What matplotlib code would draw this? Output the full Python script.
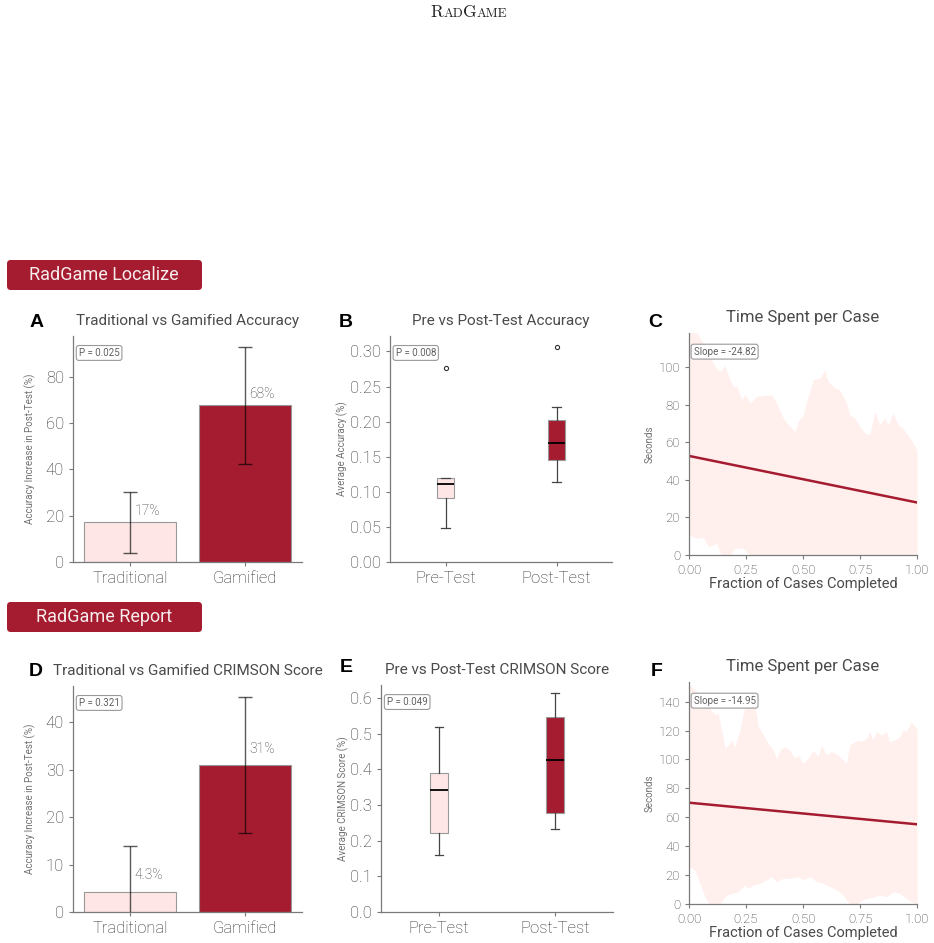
import matplotlib
matplotlib.use("Agg")
import matplotlib.pyplot as plt
from matplotlib.patches import FancyBboxPatch
import numpy as np

# ---- data ----
groups = ["Traditional", "Gamified"]
phases = ["Pre-Test", "Post-Test"]

loc_gain = [17.1, 67.6]
loc_gain_err = [13.2, 25.3]
loc_gain_p = "P = 0.025"

rep_gain = [4.3, 31.0]
rep_gain_err = [9.6, 14.4]
rep_gain_p = "P = 0.321"

# box stats: whislo, q1, med, q3, whishi
loc_pre_box = [0.048, 0.091, 0.111, 0.119, 0.120]
loc_post_box = [0.114, 0.145, 0.169, 0.203, 0.221]
loc_pre_fliers = [0.276]
loc_post_fliers = [0.307]
loc_box_p = "P = 0.008"

rep_pre_box = [0.161, 0.223, 0.342, 0.391, 0.518]
rep_post_box = [0.234, 0.277, 0.427, 0.546, 0.614]
rep_pre_fliers = []
rep_post_fliers = []
rep_box_p = "P = 0.049"

# time per case: +/- band and linear fit
loc_up_x = [0.000, 0.048, 0.092, 0.114, 0.136, 0.158, 0.172, 0.194, 0.209, 0.231,
            0.245, 0.270, 0.296, 0.326, 0.362, 0.384, 0.413, 0.442, 0.464, 0.479,
            0.501, 0.523, 0.545, 0.574, 0.596, 0.610, 0.639, 0.661, 0.691, 0.705,
            0.727, 0.749, 0.771, 0.793, 0.815, 0.836, 0.858, 0.873, 0.895, 0.917,
            0.931, 0.953, 0.975, 0.990, 1.000]
loc_up_y = [125, 116, 106, 100.5, 97.9, 100.9, 96, 89.5, 90.2, 82.7,
            85.4, 81, 84.5, 84.9, 85.4, 81, 73, 68.5, 65.8, 71.2,
            74.7, 84.5, 93.4, 94.3, 98.8, 92.5, 89, 88, 81, 74.7,
            73, 68.5, 65, 64, 76.5, 69.4, 73, 69.4, 75.6, 69.4,
            68.5, 65, 61.4, 57.8, 56]
loc_lo_x = [0.000, 0.034, 0.063, 0.085, 0.121, 0.143, 0.165, 0.201, 0.238, 0.274,
            0.350, 0.500, 0.700, 0.850, 1.000]
loc_lo_y = [10.7, 8.9, 9.4, 4.4, 6.2, -1, -3, 3.6, 3.6, -1,
            -6, -8, -9, -7, -6]
loc_fit = (52.8, -24.82)

rep_up_x = [0.000, 0.048, 0.077, 0.092, 0.114, 0.128, 0.143, 0.158, 0.172, 0.187,
            0.201, 0.223, 0.241, 0.260, 0.274, 0.289, 0.304, 0.326, 0.347, 0.369,
            0.384, 0.399, 0.420, 0.442, 0.464, 0.479, 0.501, 0.523, 0.545, 0.566,
            0.581, 0.603, 0.625, 0.654, 0.676, 0.691, 0.705, 0.727, 0.742, 0.756,
            0.778, 0.793, 0.807, 0.822, 0.844, 0.866, 0.880, 0.902, 0.924, 0.939,
            0.953, 0.975, 0.985, 1.000]
rep_up_y = [152, 145, 140, 135, 130.8, 132, 120.4, 107.7, 110, 113.5,
            108.9, 120.4, 134, 142, 148, 137.7, 122.7, 117, 111, 106.5,
            100.8, 106.5, 108.9, 106.5, 100.8, 103, 97.3, 100.8, 106.5, 102,
            110, 103, 105.4, 103, 99.6, 97.3, 110, 112.3, 113.5, 112.3,
            114.6, 119.2, 113.5, 119.2, 117, 119.2, 112.3, 113.5, 115.8, 120.4,
            119.2, 126, 123.8, 121.5]
rep_lo_x = [0.000, 0.026, 0.048, 0.070, 0.099, 0.136, 0.165, 0.194, 0.216, 0.245,
            0.260, 0.282, 0.311, 0.340, 0.362, 0.384, 0.413, 0.450, 0.479, 0.501,
            0.530, 0.559, 0.588, 0.618, 0.647, 0.676, 0.705, 0.727, 0.749, 0.778,
            0.807, 0.836, 0.866, 0.895, 0.924, 0.953, 0.975, 1.000]
rep_lo_y = [25.8, 23.5, 14.3, 5, -3, 0.5, 6.2, 7.4, 8.5, 13.1,
            10.8, 13.1, 14.3, 16.6, 18.9, 15.5, 17.8, 17.8, 18.9, 16.6,
            18.9, 15.5, 14.3, 12, 9.7, 6.2, 0, -2, 1.6, 3.9,
            4.6, 6.2, 5, 8.5, 7.4, 3.9, 1.6, 0]
rep_fit = (70.1, -14.95)

# ---- style ----
CRIMSON = "#a51c30"
PINK = "#fee6e6"
BAND = "#fff0ee"
TXT = "#2e2e2e"
HEAD = "#4a4a4a"
SPINE = "#7a7a7a"

plt.rcParams["font.family"] = ["Roboto", "DejaVu Sans"]
plt.rcParams["font.weight"] = "light"
plt.rcParams["axes.titleweight"] = "normal"
plt.rcParams["axes.labelweight"] = "normal"

W, H = 934, 943
fig = plt.figure(figsize=(W / 100, H / 100), dpi=100)


def px_axes(l, r, t, b):
    return fig.add_axes([l / W, 1 - b / H, (r - l) / W, (b - t) / H])


def base_style(ax, tick_size, label_color=TXT):
    for s in ["top", "right"]:
        ax.spines[s].set_visible(False)
    for s in ["left", "bottom"]:
        ax.spines[s].set_color(SPINE)
        ax.spines[s].set_linewidth(0.9)
    ax.tick_params(colors=SPINE, labelcolor=label_color, labelsize=tick_size, length=3, width=0.8)


def note(ax, txt, x=0.025, y=0.925):
    ax.text(x, y, txt, transform=ax.transAxes, ha="left", va="center",
            fontsize=7, color="#606060", fontweight="normal",
            bbox=dict(boxstyle="round,pad=0.25", fc="white", ec="#999999", lw=0.8))


def ylab(ax, txt, xpos):
    ax.set_ylabel(txt, fontsize=7, color="#707070")
    ax.yaxis.set_label_coords(xpos, 0.5)


def bar_panel(ax, vals, errs, ptxt, title, ymax):
    x = np.arange(len(groups))
    ax.bar(x, vals, width=0.8, color=[PINK, CRIMSON], edgecolor="#999999", linewidth=0.8)
    ax.errorbar(x, vals, yerr=errs, fmt="none", ecolor="black", alpha=0.65,
                elinewidth=1, capsize=5, capthick=1)
    for xi, v in zip(x, vals):
        ax.text(xi + 0.04, v + 2, f"{v:.2g}%", ha="left", va="bottom", fontsize=10, color="#3a3a3a")
    ax.set_xticks(x)
    ax.set_xticklabels(groups)
    ax.set_xlim(-0.5, 1.5)
    ax.set_ylim(0, ymax)
    base_style(ax, 12)
    ylab(ax, "Accuracy Increase in Post-Test (%)", -0.162)
    ax.set_title(title, fontsize=11, color=HEAD, pad=8)
    note(ax, ptxt)


def box_panel(ax, pre, post, pre_f, post_f, ptxt, title, ymax):
    stats = []
    for st, fl in [(pre, pre_f), (post, post_f)]:
        stats.append(dict(whislo=st[0], q1=st[1], med=st[2], q3=st[3], whishi=st[4], fliers=fl))
    bp = ax.bxp(stats, positions=[0, 1], widths=0.15, patch_artist=True, capwidths=0.075,
                medianprops=dict(color="black", lw=1.3),
                whiskerprops=dict(color="#444444", lw=0.9),
                capprops=dict(color="#444444", lw=0.9),
                flierprops=dict(marker="o", markersize=3, markerfacecolor="none",
                                markeredgecolor="#333333", markeredgewidth=0.8),
                boxprops=dict(edgecolor="#999999", lw=0.8))
    for patch, c in zip(bp["boxes"], [PINK, CRIMSON]):
        patch.set_facecolor(c)
    ax.set_xticks([0, 1])
    ax.set_xticklabels(phases)
    ax.set_xlim(-0.5, 1.5)
    ax.set_ylim(0, ymax)
    base_style(ax, 12)
    ax.set_title(title, fontsize=11, color=HEAD, pad=8)
    note(ax, ptxt)


def time_panel(ax, ux, uy, lx, ly, fit, ymax, yticks):
    grid = np.union1d(ux, lx)
    ax.fill_between(grid, np.interp(grid, lx, ly), np.interp(grid, ux, uy),
                    color=BAND, lw=0)
    xs = np.array([0.0, 1.0])
    ax.plot(xs, fit[0] + fit[1] * xs, color=CRIMSON, lw=1.8)
    ax.set_xlim(0, 1)
    ax.set_ylim(0, ymax)
    ax.set_xticks([0, 0.25, 0.5, 0.75, 1.0])
    ax.set_xticklabels(["0.00", "0.25", "0.50", "0.75", "1.00"])
    ax.set_yticks(yticks)
    base_style(ax, 9.5, "#333333")
    ax.set_xlabel("Fraction of Cases Completed", fontsize=10.5, color=HEAD, labelpad=0)
    ylab(ax, "Seconds", -0.149)
    ax.set_title("Time Spent per Case", fontsize=12, color=HEAD, pad=8)
    note(ax, f"Slope = {fit[1]:.2f}", x=0.02, y=0.916)


# ---- panels ----
axA = px_axes(73, 302, 336, 562)
bar_panel(axA, loc_gain, loc_gain_err, loc_gain_p, "Traditional vs Gamified Accuracy", 97.6)

axB = px_axes(390, 612, 336, 562)
box_panel(axB, loc_pre_box, loc_post_box, loc_pre_fliers, loc_post_fliers, loc_box_p,
          "Pre vs Post-Test Accuracy", 0.322)
axB.set_yticks([0, 0.05, 0.10, 0.15, 0.20, 0.25, 0.30])
axB.set_yticklabels(["0.00", "0.05", "0.10", "0.15", "0.20", "0.25", "0.30"])
ylab(axB, "Average Accuracy (%)", -0.19)

axC = px_axes(689, 917, 333, 555)
time_panel(axC, loc_up_x, loc_up_y, loc_lo_x, loc_lo_y, loc_fit, 118.3, [0, 20, 40, 60, 80, 100])

axD = px_axes(73, 302, 686, 912)
bar_panel(axD, rep_gain, rep_gain_err, rep_gain_p, "Traditional vs Gamified CRIMSON Score", 47.7)

axE = px_axes(381, 613, 685, 912)
box_panel(axE, rep_pre_box, rep_post_box, rep_pre_fliers, rep_post_fliers, rep_box_p,
          "Pre vs Post-Test CRIMSON Score", 0.637)
axE.set_yticks([0, 0.1, 0.2, 0.3, 0.4, 0.5, 0.6])
ylab(axE, "Average CRIMSON Score (%)", -0.14)

axF = px_axes(689, 917, 682, 904)
time_panel(axF, rep_up_x, rep_up_y, rep_lo_x, rep_lo_y, rep_fit, 153.6,
           [0, 20, 40, 60, 80, 100, 120, 140])

# panel letters
for letter, (lx, ly) in {"A": (30, 322), "B": (339, 322), "C": (648, 322),
                         "D": (29, 671), "E": (340, 667), "F": (651, 671)}.items():
    fig.text(lx / W, 1 - ly / H, letter, ha="left", va="center", fontsize=14,
             fontweight="bold", family="Liberation Sans", color="black")

# section headers
for label, top in [("RadGame Localize", 260), ("RadGame Report", 602)]:
    box = FancyBboxPatch((7 / W, 1 - (top + 30) / H), 195 / W, 30 / H,
                         boxstyle="round,pad=0,rounding_size=0.004",
                         transform=fig.transFigure, fc=CRIMSON, ec="none")
    fig.add_artist(box)
    fig.text(104 / W, 1 - (top + 15) / H, label, ha="center", va="center",
             fontsize=13, color="#f7ecec", fontweight="normal")

# small-caps title, pieces placed side by side
parts = [("R", 12.5), ("AD", 9.4), ("G", 12.5), ("AME", 9.4)]
renderer = fig.canvas.get_renderer()
pieces = []
total = 0.0
for part, size in parts:
    t = fig.text(0, 1 - 17 / H, part, fontsize=size, family="cmr10", color="#222222",
                 ha="left", va="baseline")
    w = t.get_window_extent(renderer).width
    pieces.append((t, w))
    total += w
x0 = 469 - total / 2
for t, w in pieces:
    t.set_x(x0 / W)
    x0 += w

fig.savefig("out.png", dpi=100)
